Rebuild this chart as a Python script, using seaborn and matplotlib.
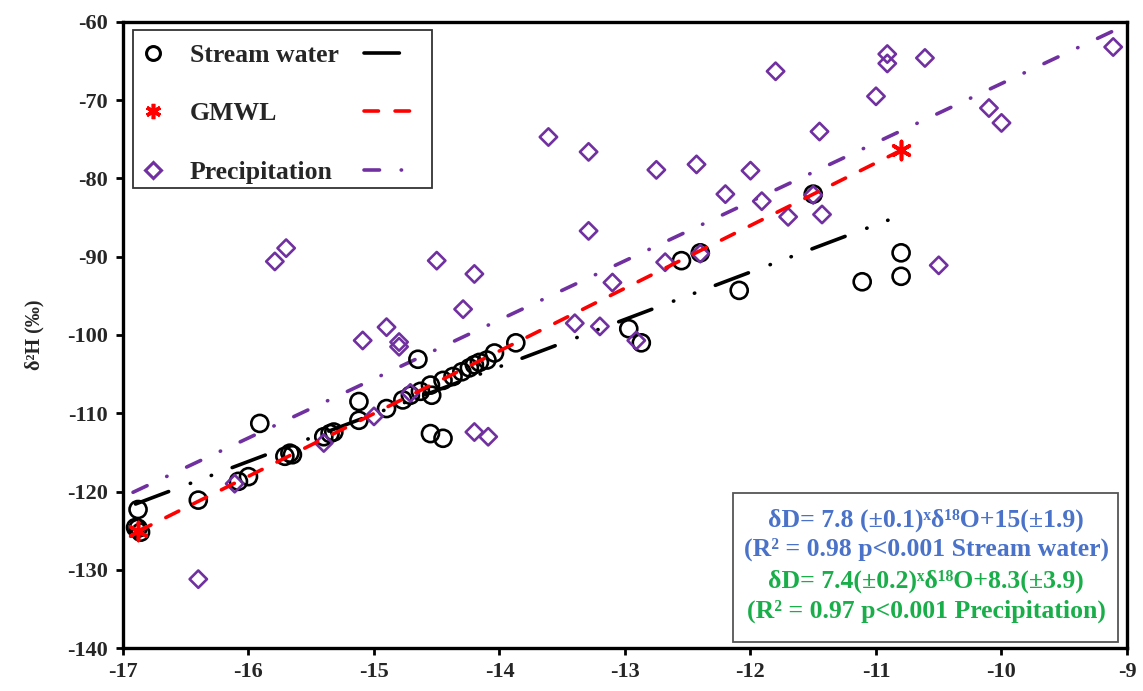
import matplotlib
matplotlib.use("Agg")
import matplotlib.pyplot as plt
from matplotlib.lines import Line2D
from matplotlib.patches import Rectangle
import seaborn as sns

# ---------------- data ----------------
stream_d18o = [-16.88, -16.88, -16.90, -16.86, -16.40, -16.08, -16.00, -15.91, -15.71, -15.67,
               -15.65, -15.40, -15.32, -15.35, -15.12, -15.12, -14.90, -14.77, -14.71, -14.65,
               -14.63, -14.55, -14.54, -14.55, -14.45, -14.45, -14.37, -14.30, -14.24, -14.20,
               -14.16, -14.10, -14.04, -13.87, -12.97, -12.87, -12.55, -12.40, -12.09, -11.50,
               -11.11, -10.80, -10.80]
stream_d2h = [-122.3, -124.7, -124.6, -125.2, -121.1, -118.7, -118.1, -111.3, -115.5, -115.1,
              -115.3, -113.0, -112.4, -112.6, -108.5, -110.9, -109.4, -108.3, -107.7, -103.1,
              -107.2, -106.4, -107.7, -112.6, -113.2, -105.8, -105.3, -104.7, -104.2, -103.8,
              -103.5, -103.2, -102.3, -101.0, -99.2, -101.0, -90.5, -89.5, -94.3, -82.0,
              -93.2, -89.5, -92.5]

precip_d18o = [-16.40, -16.11, -15.79, -15.70, -15.40, -15.09, -15.00, -14.90, -14.80, -14.80,
               -14.71, -14.50, -14.29, -14.20, -14.20, -14.09, -13.61, -13.40, -13.29, -13.29,
               -13.20, -13.10, -12.91, -12.75, -12.68, -12.43, -12.40, -12.20, -12.00, -11.91,
               -11.80, -11.70, -11.50, -11.45, -11.43, -11.00, -10.91, -10.91, -10.61, -10.50,
               -10.10, -10.00, -9.11]
precip_d2h = [-131.2, -119.0, -90.6, -88.9, -113.8, -100.7, -110.4, -99.0, -100.9, -101.5,
              -107.4, -90.5, -96.7, -92.2, -112.4, -113.0, -74.7, -98.5, -76.6, -86.7,
              -98.9, -93.3, -100.7, -78.9, -90.7, -78.2, -89.6, -82.0, -79.0, -82.9,
              -66.3, -84.9, -82.1, -74.0, -84.6, -69.5, -64.1, -65.3, -64.6, -91.1,
              -71.0, -72.9, -63.2]

gmwl_d18o = [-16.88, -10.80]
gmwl_d2h = [-125.1, -76.4]

stream_fit_x = [-16.90, -10.80]
stream_fit_y = [-121.6, -84.7]
precip_fit_x = [-16.92, -9.05]
precip_fit_y = [-120.1, -60.7]

x_ticks = [-17, -16, -15, -14, -13, -12, -11, -10, -9]
y_ticks = [-140, -130, -120, -110, -100, -90, -80, -70, -60]

legend_labels = ["Stream water", "GMWL", "Precipitation"]
eq_lines = ["δD= 7.8 (±0.1)ˣδ¹⁸O+15(±1.9)",
            "(R² = 0.98 p<0.001 Stream water)",
            "δD= 7.4(±0.2)ˣδ¹⁸O+8.3(±3.9)",
            "(R² = 0.97 p<0.001 Precipitation)"]

# ---------------- style ----------------
sns.set_theme(style="white")
FAM = ["Liberation Serif", "DejaVu Serif"]
plt.rcParams["font.family"] = FAM
plt.rcParams["axes.unicode_minus"] = False

PURPLE = "#7030A0"
RED = "#FF0000"
BLUE = "#4A72C9"
GREEN = "#1AAE4A"

fig = plt.figure(figsize=(11.43, 6.91), dpi=100)
ax = fig.add_axes([0.1076, 0.0622, 0.8784, 0.9060])

LW = 2.6
black_ls = (0, (9.8, 6.4, 0.1, 6.1, 0.1, 6.1))
red_ls = (0, (4.0, 4.6))
purple_ls = (0, (4.3, 6.0, 0.1, 6.0))

# fitted lines
sns.lineplot(x=stream_fit_x, y=stream_fit_y, ax=ax, color="black", linewidth=LW,
             linestyle=black_ls, dash_capstyle="round", zorder=2)
sns.lineplot(x=precip_fit_x, y=precip_fit_y, ax=ax, color=PURPLE, linewidth=LW,
             linestyle=purple_ls, dash_capstyle="round", zorder=2)
sns.lineplot(x=gmwl_d18o, y=gmwl_d2h, ax=ax, color=RED, linewidth=LW,
             linestyle=red_ls, dash_capstyle="round", zorder=4)

# points
sns.scatterplot(x=stream_d18o, y=stream_d2h, ax=ax, marker="o", s=150,
                facecolor="none", edgecolor="black", linewidth=1.9, zorder=3)
sns.scatterplot(x=precip_d18o, y=precip_d2h, ax=ax, marker="D", s=78,
                facecolor="none", edgecolor=PURPLE, linewidth=1.9, zorder=3)
sns.scatterplot(x=gmwl_d18o, y=gmwl_d2h, ax=ax, marker=(6, 2, 0), s=170,
                color=RED, linewidth=2.6, zorder=5)

# axes
ax.set_xlim(-17, -9)
ax.set_ylim(-140, -60)
ax.set_xticks(x_ticks)
ax.set_yticks(y_ticks)
ax.set_xticklabels([str(v) for v in x_ticks], fontsize=16, fontweight="bold")
ax.set_yticklabels([str(v) for v in y_ticks], fontsize=16, fontweight="bold")
ax.tick_params(axis="both", direction="out", length=5, width=2, color="black",
               left=True, bottom=True, top=False, right=False)
ax.tick_params(axis="y", pad=6)
ax.tick_params(axis="x", pad=5)
for sp in ax.spines.values():
    sp.set_visible(True)
    sp.set_color("black")
    sp.set_linewidth(2.4)
ax.grid(False)
ax.set_xlabel("")
ax.set_ylabel("δ²H (‰)", fontsize=14.5, fontweight="bold")
ax.yaxis.set_label_coords(-0.078, 0.5)

# legend frame (drawn manually) + markers/labels legend + line-sample legend
ax.add_patch(Rectangle((0.00996, 0.7348), 0.2978, 0.2522, transform=ax.transAxes,
                       facecolor="white", edgecolor="#333333", linewidth=1.3, zorder=6))
h_markers = [
    Line2D([], [], linestyle="none", marker="o", markersize=10, markerfacecolor="none",
           markeredgecolor="black", markeredgewidth=2.2),
    Line2D([], [], linestyle="none", marker=(6, 2, 0), markersize=11, color=RED,
           markeredgewidth=2.6),
    Line2D([], [], linestyle="none", marker="D", markersize=8, markerfacecolor="none",
           markeredgecolor=PURPLE, markeredgewidth=2.2),
]
h_lines = [
    Line2D([], [], color="black", linewidth=LW, linestyle=black_ls, dash_capstyle="round"),
    Line2D([], [], color=RED, linewidth=LW, linestyle=red_ls, dash_capstyle="round"),
    Line2D([], [], color=PURPLE, linewidth=LW, linestyle=purple_ls, dash_capstyle="round"),
]
leg_prop = {"family": FAM, "weight": "bold", "size": 18.5}
leg1 = ax.legend(h_markers, legend_labels, loc="upper left",
                 bbox_to_anchor=(0.0169, 0.9648), borderaxespad=0, borderpad=0,
                 frameon=False, prop=leg_prop, labelspacing=1.38,
                 handlelength=1.0, handletextpad=0.95)
leg1.set_zorder(7)
ax.add_artist(leg1)
leg2 = ax.legend(h_lines, [" ", " ", " "], loc="upper left",
                 bbox_to_anchor=(0.240, 0.9648), borderaxespad=0, borderpad=0,
                 frameon=False, prop=leg_prop, labelspacing=1.38,
                 handlelength=2.2, handletextpad=0.0)
leg2.set_zorder(7)

# equation box
ax.add_patch(Rectangle((0.608, 0.0096), 0.383, 0.238, transform=ax.transAxes,
                       facecolor="white", edgecolor="#555555", linewidth=1.3, zorder=6))
eq_colors = [BLUE, BLUE, GREEN, GREEN]
eq_y = [0.204, 0.157, 0.106, 0.058]
for txt, col, yy in zip(eq_lines, eq_colors, eq_y):
    ax.text(0.80, yy, txt, transform=ax.transAxes, ha="center", va="center",
            fontsize=18.5, fontweight="bold", color=col, zorder=7, family=FAM)

fig.savefig("out.png", dpi=100, facecolor="white")
